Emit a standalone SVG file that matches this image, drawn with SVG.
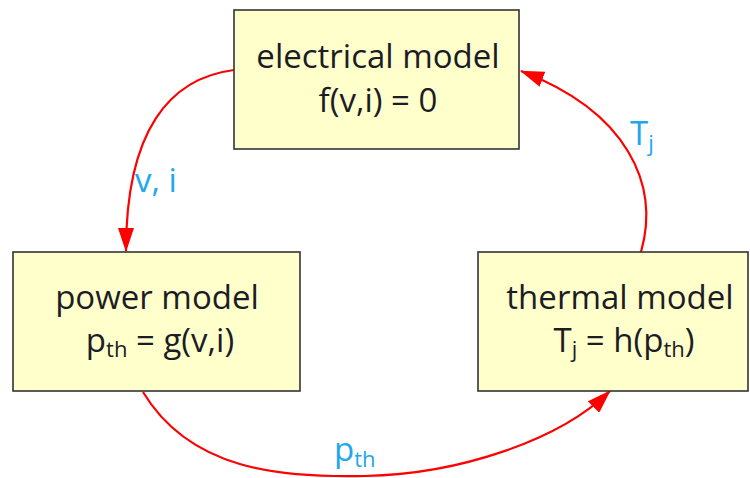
<svg xmlns="http://www.w3.org/2000/svg" width="750" height="478" viewBox="0 0 750 478">
  <style>
    .box { fill: #FFFFCC; stroke: #333333; stroke-width: 1.6; }
    .t { font-family: "Open Sans", "Liberation Sans", sans-serif; font-size: 33px; fill: #1c1c24; text-anchor: middle; }
    .lbl { font-family: "Open Sans", "Liberation Sans", sans-serif; font-size: 33px; fill: #22A6EC; }
    .sub { font-size: 22px; }
    .conn { fill: none; stroke: #FF0000; stroke-width: 2.2; }
  </style>
  <defs>
    <marker id="ah" markerUnits="userSpaceOnUse" markerWidth="24" markerHeight="16" refX="23" refY="8" orient="auto">
      <path d="M0,0 L24,8 L0,16 z" fill="#FF0000"/>
    </marker>
  </defs>
  <rect width="750" height="478" fill="#FFFFFF"/>
  <g id="connectors">
    <path class="conn" d="M234,70 C170,78 126,130 126,251" marker-end="url(#ah)"/>
    <path class="conn" d="M641,252 C660,185 628,112 521,71" marker-end="url(#ah)"/>
    <path class="conn" d="M143,392 C190,470 280,478 365,476 C460,474 560,440 610,391" marker-end="url(#ah)"/>
    <text class="lbl" x="135" y="192">v, i</text>
    <text class="lbl" x="630" y="145">T<tspan class="sub" dy="6">j</tspan></text>
    <text class="lbl" x="334" y="461">p<tspan class="sub" dy="6">th</tspan></text>
  </g>
  <g id="electrical">
    <rect class="box" x="234" y="10" width="285" height="139"/>
    <text class="t" x="378" y="68">electrical model</text>
    <text class="t" x="378" y="112">f(v,i) = 0</text>
  </g>
  <g id="power">
    <rect class="box" x="13" y="252" width="287" height="139"/>
    <text class="t" x="157" y="309">power model</text>
    <text class="t" x="160" y="352">p<tspan class="sub" dy="5">th</tspan><tspan dy="-5"> = g(v,i)</tspan></text>
  </g>
  <g id="thermal">
    <rect class="box" x="478" y="252" width="270" height="139"/>
    <text class="t" x="620" y="309">thermal model</text>
    <text class="t" x="624" y="352">T<tspan class="sub" dy="5">j</tspan><tspan dy="-5"> = h(p</tspan><tspan class="sub" dy="5">th</tspan><tspan dy="-5">)</tspan></text>
  </g>
</svg>
